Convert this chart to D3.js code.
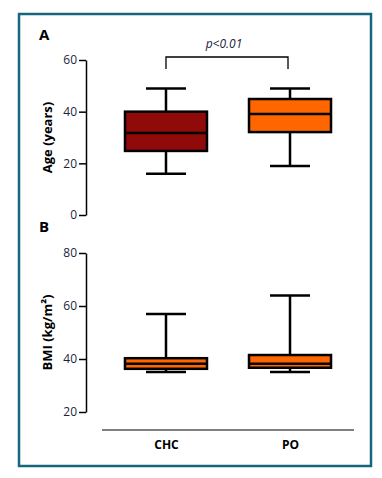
<html>
<head>
<script src="https://d3js.org/d3.v7.min.js"></script>
<style>
  body { margin: 0; background: #fff; }
  text { font-family: "Open Sans", sans-serif; }
</style>
</head>
<body>
<svg width="382" height="478"></svg>
<script>
// data
var groups = ["CHC", "PO"];
var ageMin = [16, 19];
var ageQ1 = [24.8, 32.1];
var ageMed = [31.7, 39.1];
var ageQ3 = [40, 44.9];
var ageMax = [49, 49];
var ageColors = ["#900a0a", "#ff6600"];
var ageTicks = [0, 20, 40, 60];

var bmiMin = [35.1, 35.1];
var bmiQ1 = [36.3, 36.7];
var bmiMed = [38.2, 38.2];
var bmiQ3 = [40.3, 41.5];
var bmiMax = [57, 64];
var bmiColors = ["#ff6600", "#ff6600"];
var bmiTicks = [20, 40, 60, 80];

var svg = d3.select("svg");

svg.append("rect")
  .attr("x", 19).attr("y", 14).attr("width", 352).attr("height", 452)
  .attr("fill", "none").attr("stroke", "#16667e").attr("stroke-width", 2.5);

var x = d3.scalePoint().domain(groups).range([102, 354]).padding(0.516);
var boxW = 82, capW = 40;

function panel(yScale, ticks, mins, q1, med, q3, maxs, colors, label) {
  var g = svg.append("g");
  var ax = g.append("g")
    .attr("transform", "translate(86,0)")
    .call(d3.axisLeft(yScale).tickValues(ticks).tickSize(7).tickPadding(2).tickSizeOuter(0));
  ax.select(".domain").attr("stroke", "#000").attr("stroke-width", 1.5);
  ax.selectAll(".tick line").attr("stroke", "#000").attr("stroke-width", 1.5);
  ax.selectAll(".tick text").attr("fill", "#1a1f40").style("font-size", "12px")
    .style("font-family", "'Open Sans', sans-serif");

  var d = groups.map(function(k, i) {
    return { k: k, min: mins[i], q1: q1[i], med: med[i], q3: q3[i], max: maxs[i], c: colors[i] };
  });
  var b = g.selectAll(".box").data(d).enter().append("g");
  b.append("line")
    .attr("x1", function(e) { return x(e.k); }).attr("x2", function(e) { return x(e.k); })
    .attr("y1", function(e) { return yScale(e.max); }).attr("y2", function(e) { return yScale(e.min); })
    .attr("stroke", "#000").attr("stroke-width", 2.5);
  b.append("line")
    .attr("x1", function(e) { return x(e.k) - capW / 2; }).attr("x2", function(e) { return x(e.k) + capW / 2; })
    .attr("y1", function(e) { return yScale(e.max); }).attr("y2", function(e) { return yScale(e.max); })
    .attr("stroke", "#000").attr("stroke-width", 2.5);
  b.append("line")
    .attr("x1", function(e) { return x(e.k) - capW / 2; }).attr("x2", function(e) { return x(e.k) + capW / 2; })
    .attr("y1", function(e) { return yScale(e.min); }).attr("y2", function(e) { return yScale(e.min); })
    .attr("stroke", "#000").attr("stroke-width", 2.5);
  b.append("rect")
    .attr("x", function(e) { return x(e.k) - boxW / 2; }).attr("width", boxW)
    .attr("y", function(e) { return yScale(e.q3); })
    .attr("height", function(e) { return yScale(e.q1) - yScale(e.q3); })
    .attr("fill", function(e) { return e.c; })
    .attr("stroke", "#000").attr("stroke-width", 2.5);
  b.append("line")
    .attr("x1", function(e) { return x(e.k) - boxW / 2; }).attr("x2", function(e) { return x(e.k) + boxW / 2; })
    .attr("y1", function(e) { return yScale(e.med); }).attr("y2", function(e) { return yScale(e.med); })
    .attr("stroke", "#000").attr("stroke-width", 2.5);

  var r = yScale.range();
  g.append("text")
    .attr("transform", "translate(52," + ((r[0] + r[1]) / 2) + ") rotate(-90)")
    .attr("text-anchor", "middle")
    .style("font-size", "13px").style("font-weight", "bold")
    .text(label);
}

var yA = d3.scaleLinear().domain([0, 60]).range([215, 60]);
var yB = d3.scaleLinear().domain([20, 80]).range([412, 253]);

panel(yA, ageTicks, ageMin, ageQ1, ageMed, ageQ3, ageMax, ageColors, "Age (years)");
panel(yB, bmiTicks, bmiMin, bmiQ1, bmiMed, bmiQ3, bmiMax, bmiColors, "BMI (kg/m²)");

// panel letters
svg.append("text").attr("x", 39).attr("y", 40).text("A")
  .style("font-size", "15px").style("font-weight", "bold");
svg.append("text").attr("x", 39).attr("y", 232).text("B")
  .style("font-size", "15px").style("font-weight", "bold");

// significance bracket
var bx1 = x("CHC"), bx2 = x("PO") - 2;
svg.append("path")
  .attr("d", "M" + bx1 + "," + 69 + "V" + 57 + "H" + bx2 + "V" + 69)
  .attr("fill", "none").attr("stroke", "#000").attr("stroke-width", 1.3);
svg.append("text").attr("x", (bx1 + bx2) / 2 - 3).attr("y", 48)
  .attr("text-anchor", "middle").style("font-size", "12px").style("font-style", "italic")
  .attr("fill", "#1a1f40").text("p<0.01");

// bottom category axis
var xAx = svg.append("g").attr("transform", "translate(0,430)")
  .call(d3.axisBottom(x).tickSize(0).tickPadding(10));
xAx.select(".domain").attr("d", "M102,0H354").attr("stroke", "#000").attr("stroke-width", 1.2);
xAx.selectAll(".tick text").attr("fill", "#000").style("font-size", "12px")
  .style("font-weight", "bold").style("font-family", "'Open Sans', sans-serif");
</script>
</body>
</html>
